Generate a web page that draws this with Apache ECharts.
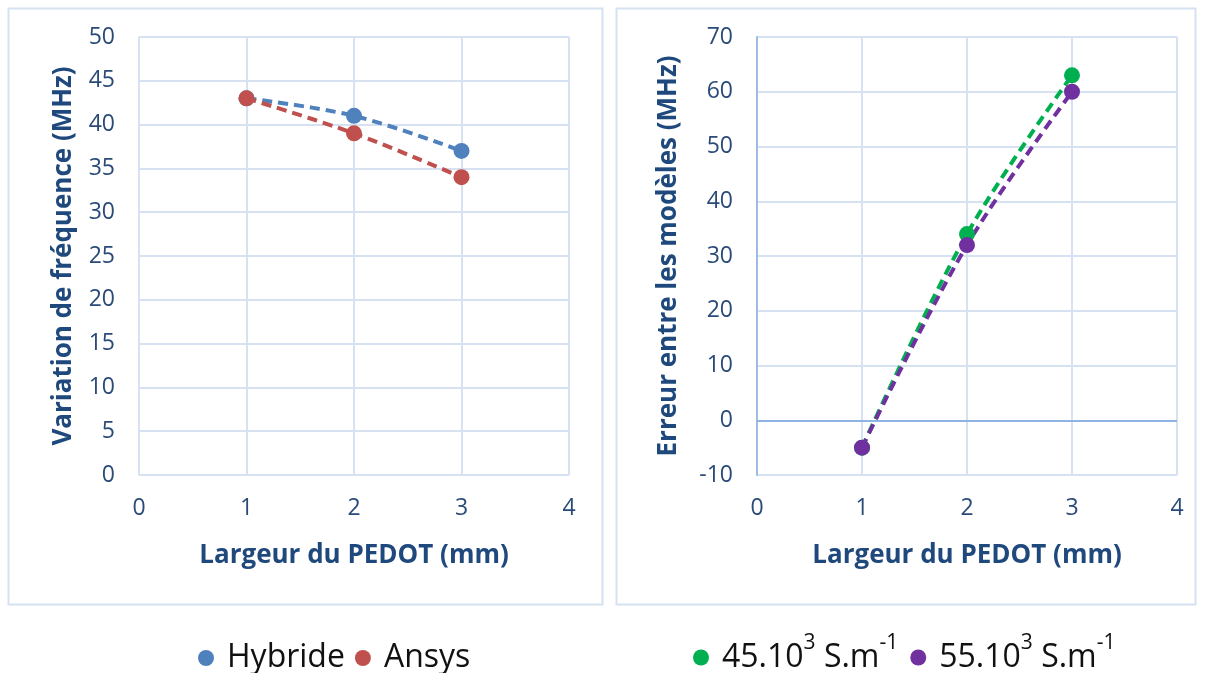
<!DOCTYPE html>
<html><head><meta charset="utf-8">
<script src="https://cdn.jsdelivr.net/npm/echarts@6/dist/echarts.min.js"></script>
<style>html,body{margin:0;padding:0;background:#fff}#c{width:1206px;height:673px}</style>
</head><body><div id="c"></div>
<script>
const widths = [1, 2, 3];
const hybride = [43, 41, 37];
const ansys = [43, 39, 34];
const s45 = [-5, 34, 63];
const s55 = [-5, 32, 60];
const leftYTitle = 'Variation de fréquence (MHz)';
const rightYTitle = 'Erreur entre les modèles (MHz)';
const xTitle = 'Largeur du PEDOT (mm)';

const FONT = '"Open Sans", sans-serif';
const tickColor = '#2A4A78';
const titleColor = '#1F497D';
const gridColor = '#D6E2F2';

function pts(ys){ return widths.map((x,i)=>[x, ys[i]]); }

function xAxis(gi){
  return {gridIndex: gi, type:'value', min:0, max:4, interval:1,
    name: xTitle, nameLocation:'middle', nameGap: 68,
    nameTextStyle:{fontFamily:FONT, fontWeight:'bold', fontSize:26, color:titleColor},
    axisLine:{show:false}, axisTick:{show:false},
    axisLabel:{fontFamily:FONT, fontSize:23, color:tickColor, margin:22},
    splitLine:{show:true, lineStyle:{color:gridColor, width:2}}};
}
function yAxis(gi, min, max, iv, name, lineShow, gap){
  return {gridIndex: gi, type:'value', min:min, max:max, interval:iv,
    name: name, nameLocation:'middle', nameGap: gap, nameRotate: 90,
    nameTextStyle:{fontFamily:FONT, fontWeight:'bold', fontSize:26, color:titleColor},
    axisLine:{show:lineShow, lineStyle:{color:'#9DBBE3', width:2}}, axisTick:{show:false},
    axisLabel:{fontFamily:FONT, fontSize:23, color:tickColor, margin:24},
    splitLine:{show:true, lineStyle:{color:gridColor, width:2}}};
}
function line(name, data, color, gi){
  return {name:name, type:'line', xAxisIndex:gi, yAxisIndex:gi, data:pts(data),
    smooth:0.35, symbol:'circle', symbolSize:16,
    itemStyle:{color:color}, lineStyle:{color:color, width:4, type:[10,6]}};
}

const chart = echarts.init(document.getElementById('c'));
const s0 = line('Hybride', hybride, '#4F81BD', 0);
const s1 = line('Ansys', ansys, '#C0504D', 0);
const s2 = line('45.10{sup|3} S.m{sup|-1}', s45, '#00B050', 1);
s2.markLine = {silent:true, symbol:'none', label:{show:false},
  lineStyle:{color:'#8EB4E3', width:2, type:'solid'}, data:[{yAxis:0}]};
const s3 = line('55.10{sup|3} S.m{sup|-1}', s55, '#7030A0', 1);

chart.setOption({
  animation:false,
  graphic:[
    {type:'rect', shape:{x:8.5,y:8.5,width:594,height:596}, style:{fill:'none', stroke:'#D6E2F2', lineWidth:2}},
    {type:'rect', shape:{x:616.5,y:8.5,width:579,height:596}, style:{fill:'none', stroke:'#D6E2F2', lineWidth:2}}
  ],
  grid:[
    {left:139, top:37, width:430, height:438},
    {left:757, top:37, width:420, height:438}
  ],
  xAxis:[xAxis(0), xAxis(1)],
  yAxis:[yAxis(0,0,50,5,leftYTitle,false,62), yAxis(1,-10,70,10,rightYTitle,true,75)],
  legend:[
    {data:['Hybride','Ansys'], left:193, top:637, icon:'circle', itemWidth:16, itemHeight:16, itemGap:10,
     textStyle:{fontFamily:FONT, fontSize:32, color:'#111', padding:[0,0,0,8]}},
    {data:[s2.name, s3.name], left:688, top:628, icon:'circle', itemWidth:16, itemHeight:16, itemGap:12,
     textStyle:{fontFamily:FONT, fontSize:32, color:'#111', padding:[0,0,0,8],
       rich:{sup:{fontFamily:FONT, fontSize:21, color:'#111', padding:[0,0,28,0]}}}}
  ],
  series:[s0,s1,s2,s3]
});
</script></body></html>
